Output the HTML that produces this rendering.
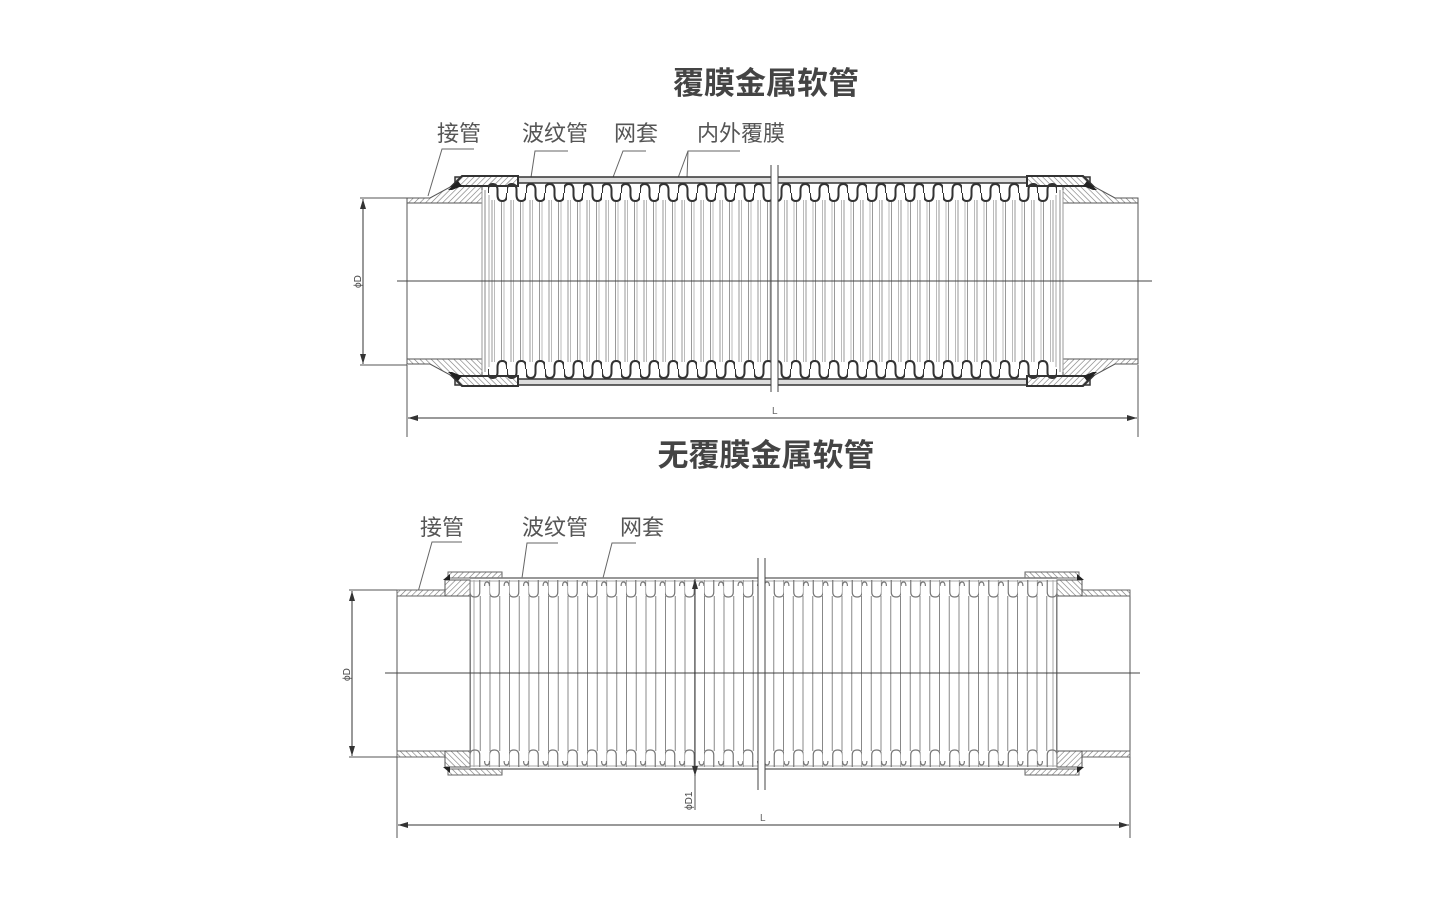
<!DOCTYPE html>
<html><head><meta charset="utf-8"><style>
html,body{margin:0;padding:0;background:#fff;}
svg{display:block;}
.t{font-family:"Liberation Sans","Noto Sans CJK SC",sans-serif;}
</style></head><body>
<svg width="1440" height="900" viewBox="0 0 1440 900" xmlns="http://www.w3.org/2000/svg">
<defs>
<pattern id="hatch" patternUnits="userSpaceOnUse" width="4" height="4" patternTransform="rotate(45)">
<rect width="4" height="4" fill="#fff"/><line x1="0" y1="0" x2="0" y2="4" stroke="#777" stroke-width="1.2"/>
</pattern>
<pattern id="wave" patternUnits="userSpaceOnUse" x="488" y="182" width="19" height="22">
<path d="M0,11 L0,8 Q0,2 4.75,2 Q9.5,2 9.5,8 L9.5,13 Q9.5,19 14.25,19 Q19,19 19,13 L19,11" fill="none" stroke="#333" stroke-width="2"/>
</pattern>
<pattern id="vl" patternUnits="userSpaceOnUse" x="488" y="0" width="19" height="10">
<rect x="3.5" y="0" width="1" height="10" fill="#999"/><rect x="6" y="0" width="1" height="10" fill="#bbb"/>
<rect x="13" y="0" width="1" height="10" fill="#999"/><rect x="15.5" y="0" width="1" height="10" fill="#bbb"/>
</pattern>
<pattern id="wave2" patternUnits="userSpaceOnUse" x="470" y="578" width="19.5" height="22">
<path d="M0,2 L0,14 Q0,19 4.9,19 Q9.75,19 9.75,14 L9.75,2 M14.6,8 Q14.6,4 17,4 Q19.5,4 19.5,8" fill="none" stroke="#777" stroke-width="1.2"/>
</pattern>
<pattern id="vl2" patternUnits="userSpaceOnUse" x="470" y="0" width="19.5" height="10">
<rect x="0" y="0" width="1" height="10" fill="#888"/><rect x="9.75" y="0" width="1" height="10" fill="#888"/>
</pattern>
<marker id="ar" markerWidth="10" markerHeight="6" refX="10" refY="3" orient="auto" markerUnits="userSpaceOnUse">
<path d="M0,0 L10,3 L0,6 Z" fill="#333"/></marker>

<g id="q1">
<rect x="488" y="200" width="284" height="81" fill="url(#vl)"/>
<line x1="407" y1="198" x2="407" y2="281" stroke="#555" stroke-width="1"/>
<polygon points="407,198 430,198 452,186 482,186 482,203 407,203" fill="url(#hatch)" stroke="#555" stroke-width="1"/>
<line x1="482" y1="190" x2="482" y2="281" stroke="#999"/>
<line x1="485" y1="190" x2="485" y2="281" stroke="#888"/>
<line x1="489" y1="195" x2="489" y2="281" stroke="#aaa"/>
<rect x="455" y="177" width="317" height="6" fill="#ddd" stroke="#333" stroke-width="1.5"/>
<polygon points="452,186 462,176 518,176 518,186" fill="url(#hatch)" stroke="#333" stroke-width="2"/>
<polygon points="448,190 458,181 462,186 452,190" fill="#222"/>
<rect x="488" y="182" width="284" height="22" fill="url(#wave)"/>
</g>
<g id="q2">
<rect x="470" y="596" width="293" height="78" fill="url(#vl2)"/>
<line x1="397" y1="590" x2="397" y2="674" stroke="#555"/>
<rect x="397" y="590" width="48" height="6" fill="url(#hatch)" stroke="#666"/>
<rect x="445" y="580" width="25" height="16" fill="url(#hatch)" stroke="#555"/>
<rect x="448" y="572" width="54" height="6" fill="url(#hatch)" stroke="#666"/>
<polygon points="443,580 450,574 450,580" fill="#222"/>
<line x1="470" y1="578" x2="763" y2="578" stroke="#777" stroke-width="1.5"/>
<line x1="470" y1="581" x2="763" y2="581" stroke="#aaa" stroke-width="1"/>
<line x1="470" y1="580" x2="470" y2="674" stroke="#777"/>
<line x1="474" y1="580" x2="474" y2="674" stroke="#aaa"/>
<rect x="470" y="578" width="293" height="22" fill="url(#wave2)"/>
</g>
</defs>

<!-- TOP DIAGRAM -->
<text class="t" x="766" y="94" font-size="31" font-weight="bold" fill="#444" text-anchor="middle">覆膜金属软管</text>
<g class="t" font-size="22" fill="#555">
<text x="437" y="141">接管</text><text x="522" y="141">波纹管</text><text x="614" y="141">网套</text><text x="697" y="141">内外覆膜</text>
</g>
<g stroke="#666" stroke-width="1" fill="none">
<polyline points="474,149 442,149 428,196"/>
<polyline points="568,151 535,151 530,184"/>
<polyline points="646,151 623,151 612,180"/>
<polyline points="740,151 688,151 678,178"/>
<line x1="688" y1="151" x2="687" y2="178"/>
</g>
<use href="#q1"/>
<use href="#q1" transform="matrix(1,0,0,-1,0,562)"/>
<use href="#q1" transform="matrix(-1,0,0,1,1545,0)"/>
<use href="#q1" transform="matrix(-1,0,0,-1,1545,562)"/>
<rect x="771" y="168" width="7" height="224" fill="#fff"/>
<line x1="771" y1="165" x2="771" y2="392" stroke="#444"/>
<line x1="778" y1="165" x2="778" y2="392" stroke="#444"/>
<line x1="397" y1="281" x2="1152" y2="281" stroke="#444"/>
<line x1="360" y1="198" x2="407" y2="198" stroke="#555"/>
<line x1="360" y1="365" x2="407" y2="365" stroke="#555"/>
<line x1="363" y1="281" x2="363" y2="199" stroke="#333" marker-end="url(#ar)"/>
<line x1="363" y1="281" x2="363" y2="364" stroke="#333" marker-end="url(#ar)"/>
<text class="t" x="0" y="0" font-size="10" fill="#444" transform="translate(361,288) rotate(-90)">ϕD</text>
<line x1="407" y1="365" x2="407" y2="437" stroke="#555"/>
<line x1="1138" y1="365" x2="1138" y2="437" stroke="#555"/>
<line x1="772" y1="418" x2="408" y2="418" stroke="#333" marker-end="url(#ar)"/>
<line x1="772" y1="418" x2="1137" y2="418" stroke="#333" marker-end="url(#ar)"/>
<text class="t" x="772" y="414" font-size="10" fill="#666">L</text>

<!-- BOTTOM DIAGRAM -->
<text class="t" x="766" y="466" font-size="31" font-weight="bold" fill="#444" text-anchor="middle">无覆膜金属软管</text>
<g class="t" font-size="22" fill="#555">
<text x="420" y="535">接管</text><text x="522" y="535">波纹管</text><text x="620" y="535">网套</text>
</g>
<g stroke="#666" stroke-width="1" fill="none">
<polyline points="462,542 432,542 418,592"/>
<polyline points="558,543 527,543 522,578"/>
<polyline points="636,543 612,543 603,578"/>
</g>
<use href="#q2"/>
<use href="#q2" transform="matrix(1,0,0,-1,0,1347)"/>
<use href="#q2" transform="matrix(-1,0,0,1,1527,0)"/>
<use href="#q2" transform="matrix(-1,0,0,-1,1527,1347)"/>
<rect x="758" y="562" width="7" height="226" fill="#fff"/>
<line x1="758" y1="558" x2="758" y2="790" stroke="#444"/>
<line x1="765" y1="558" x2="765" y2="790" stroke="#444"/>
<line x1="385" y1="673" x2="1140" y2="673" stroke="#444"/>
<line x1="349" y1="590" x2="397" y2="590" stroke="#555"/>
<line x1="349" y1="757" x2="397" y2="757" stroke="#555"/>
<line x1="352" y1="673" x2="352" y2="591" stroke="#333" marker-end="url(#ar)"/>
<line x1="352" y1="673" x2="352" y2="756" stroke="#333" marker-end="url(#ar)"/>
<text class="t" x="0" y="0" font-size="10" fill="#444" transform="translate(350,681) rotate(-90)">ϕD</text>
<line x1="695" y1="700" x2="695" y2="579" stroke="#333" marker-end="url(#ar)"/>
<line x1="695" y1="700" x2="695" y2="776" stroke="#333" marker-end="url(#ar)"/>
<line x1="695" y1="776" x2="695" y2="810" stroke="#555"/>
<text class="t" x="0" y="0" font-size="10" fill="#444" transform="translate(692,810) rotate(-90)">ϕD1</text>
<line x1="397" y1="757" x2="397" y2="838" stroke="#555"/>
<line x1="1130" y1="757" x2="1130" y2="838" stroke="#555"/>
<line x1="763" y1="825" x2="398" y2="825" stroke="#333" marker-end="url(#ar)"/>
<line x1="763" y1="825" x2="1129" y2="825" stroke="#333" marker-end="url(#ar)"/>
<text class="t" x="760" y="821" font-size="10" fill="#666">L</text>
</svg>
</body></html>
